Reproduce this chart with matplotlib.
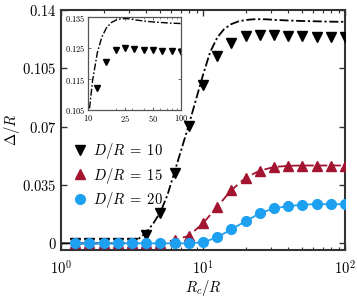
import numpy as np
import matplotlib
matplotlib.use("Agg")
import matplotlib.pyplot as plt
from matplotlib.ticker import FixedLocator, FixedFormatter, LogLocator, NullFormatter

plt.rcParams['mathtext.fontset'] = 'cm'
plt.rcParams['font.family'] = ['DejaVu Serif']

# ---- data ----
rc = [1.26, 1.58, 2.0, 2.51, 3.16, 3.98, 5.01, 6.31, 7.94, 10.0,
      12.6, 15.8, 20.0, 25.1, 31.6, 39.8, 50.1, 63.1, 79.4, 100.0]
d10 = [0, 0, 0, 0, 0, 0.005, 0.0185, 0.0425, 0.0705, 0.095,
       0.1122, 0.1205, 0.1242, 0.1249, 0.1248, 0.1244, 0.1242, 0.1240, 0.1239, 0.1238]
d15 = [0, 0, 0, 0, 0, 0, 0, 0.002, 0.0045, 0.012,
       0.022, 0.0318, 0.0394, 0.0436, 0.0458, 0.0465, 0.0467, 0.0467, 0.0467, 0.0467]
d20 = [0, 0, 0, 0, 0, 0, 0, 0, 0, 0.0006,
       0.0036, 0.0084, 0.0133, 0.018, 0.021, 0.0223, 0.0232, 0.0235, 0.0235, 0.0235]

theory_rc = [1.0, 1.26, 1.58, 2.0, 2.51, 2.82, 3.16, 3.55, 3.98, 4.47, 5.01, 5.62,
             6.31, 7.08, 7.94, 8.91, 10.0, 11.2, 12.6, 14.1, 15.8, 17.8, 20.0,
             22.4, 25.1, 28.2, 31.6, 39.8, 50.1, 63.1, 79.4, 100.0]
theory_d10 = [0, 0, 0, 0, 0, 0.0003, 0.001, 0.003, 0.0065, 0.012, 0.0187, 0.029,
              0.043, 0.057, 0.071, 0.086, 0.101, 0.1145, 0.1235, 0.1286, 0.1315, 0.1332, 0.1340,
              0.1344, 0.1345, 0.1344, 0.1341, 0.1337, 0.1334, 0.1332, 0.1330, 0.1329]

yticks = [0, 0.035, 0.07, 0.105, 0.14]
ytick_labels = ['$0$', '$0.035$', '$0.07$', '$0.105$', '$0.14$']
xticks = [1, 10, 100]
xtick_labels = ['$10^0$', '$10^1$', '$10^2$']
in_yticks = [0.105, 0.115, 0.125, 0.135]
in_ytick_labels = ['$0.105$', '$0.115$', '$0.125$', '$0.135$']
in_xticks = [10, 25, 50, 100]
in_xtick_labels = ['$10$', '$25$', '$50$', '$100$']
labels = [r'$D/R\;=\;10$', r'$D/R\;=\;15$', r'$D/R\;=\;20$']

c_black = 'black'
c_red = '#a2142f'
c_blue = '#1ea0f0'

fig = plt.figure(figsize=(3.57, 2.98), dpi=100)
ax = fig.add_axes([61/357, 48/298, 284/357, 240/298])

ax.plot(theory_rc, theory_d10, color=c_black, lw=1.3, zorder=2,
        dashes=(5, 1.5, 1.2, 1.5))
ax.plot(rc, d15, color=c_red, lw=1.3, zorder=2, dashes=(5, 2.5))
ax.plot(rc, d20, color=c_blue, ls='-', lw=1.3, zorder=2)
h1, = ax.plot(rc, d10, 'v', color=c_black, ms=7, ls='none', zorder=3, label=labels[0])
h2, = ax.plot(rc, d15, '^', color=c_red, ms=7, ls='none', zorder=4, label=labels[1])
h3, = ax.plot(rc, d20, 'o', color=c_blue, ms=7, ls='none', zorder=5, label=labels[2])

ax.set_xscale('log')
ax.set_xlim(1, 100)
ax.set_ylim(-0.004, 0.14)
ax.xaxis.set_major_locator(FixedLocator(xticks))
ax.xaxis.set_major_formatter(FixedFormatter(xtick_labels))
ax.xaxis.set_minor_locator(LogLocator(base=10, subs=np.arange(2, 10)))
ax.xaxis.set_minor_formatter(NullFormatter())
ax.yaxis.set_major_locator(FixedLocator(yticks))
ax.yaxis.set_major_formatter(FixedFormatter(ytick_labels))
ax.tick_params(which='both', direction='in', top=True, right=True, labelsize=10.5,
               color='#333333')
ax.tick_params(which='major', length=4, width=1.0)
ax.tick_params(which='minor', length=2.5, width=0.8)
ax.tick_params(axis='x', pad=6)
ax.tick_params(axis='y', pad=3)
for s in ax.spines.values():
    s.set_linewidth(1.5)
    s.set_color('#333333')
ax.set_xlabel('$R_c/R$', fontsize=10.5, labelpad=1)
ax.set_ylabel(r'$\Delta/R$', fontsize=10.5, labelpad=0)

ax.legend(handles=[h1, h2, h3], loc='center left', bbox_to_anchor=(-0.01, 0.31),
          frameon=False, fontsize=10.5, handletextpad=0.3, labelspacing=0.3,
          handlelength=1.2)

# ---- inset ----
axi = fig.add_axes([88/357, (298-110)/298, 93/357, 93/298])
axi.plot(theory_rc, theory_d10, color=c_black, lw=1.0, dashes=(5, 1.5, 1.2, 1.5))
axi.plot(rc, d10, 'v', color=c_black, ms=4.5, ls='none')
axi.set_xscale('log')
axi.set_xlim(10, 100)
axi.set_ylim(0.105, 0.135)
axi.xaxis.set_major_locator(FixedLocator(in_xticks))
axi.xaxis.set_major_formatter(FixedFormatter(in_xtick_labels))
axi.xaxis.set_minor_locator(LogLocator(base=10, subs=np.arange(2, 10)))
axi.xaxis.set_minor_formatter(NullFormatter())
axi.yaxis.set_major_locator(FixedLocator(in_yticks))
axi.yaxis.set_major_formatter(FixedFormatter(in_ytick_labels))
axi.tick_params(which='both', direction='in', top=True, right=True, labelsize=6,
                color='#555555', pad=2)
axi.tick_params(which='major', length=2.5, width=0.6)
axi.tick_params(which='minor', length=1.5, width=0.5)
for s in axi.spines.values():
    s.set_linewidth(0.9)
    s.set_color('#555555')

fig.savefig('out.png', dpi=100)
